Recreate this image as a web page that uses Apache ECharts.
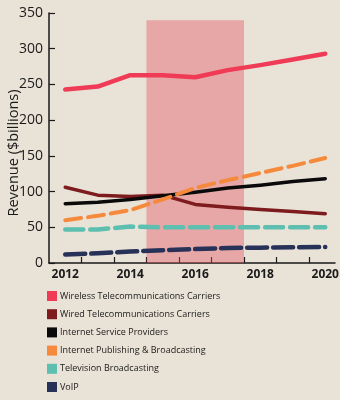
<!DOCTYPE html>
<html>
<head>
<meta charset="utf-8">
<script src="https://cdn.jsdelivr.net/npm/echarts@6/dist/echarts.min.js"></script>
<style>
  html, body { margin: 0; padding: 0; background: #e9e2d7; }
  #chart { width: 340px; height: 400px; }
</style>
</head>
<body>
<div id="chart"></div>
<script>
const years = [2012, 2013, 2014, 2015, 2016, 2017, 2018, 2019, 2020];
const wireless = [243, 247, 263, 263, 260, 270, 277, 285, 293];
const wired = [106, 95, 93, 95, 82, 78, 75, 72, 69];
const isp = [83, 85, 89, 94, 99, 105, 109, 114, 118];
const publishing = [60, 66, 74, 89, 105, 116, 126, 136, 147];
const television = [47, 47, 51, 50, 50, 50, 50, 50, 50];
const voip = [12, 13.5, 16, 18, 19.5, 21, 21.5, 22, 22.5];

const xLabels = [2012, 2014, 2016, 2018, 2020];
const xTicks = [2012.5, 2013.5, 2014.5, 2015.5, 2016.5, 2017.5, 2018.5, 2019.5];
const band = { from: 2014.5, to: 2017.5, top: 340 };

const font = '"Open Sans", "Noto Sans", sans-serif';

function pairs(values) {
  return values.map((v, i) => [years[i], v]);
}

function lineSeries(name, values, color, width, dash) {
  return {
    name: name,
    type: 'line',
    data: pairs(values),
    symbol: 'none',
    smooth: false,
    itemStyle: { color: color },
    lineStyle: { color: color, width: width, type: dash || 'solid', cap: 'round', join: 'round' },
    z: 3
  };
}

const chart = echarts.init(document.getElementById('chart'));
chart.setOption({
  backgroundColor: '#e9e2d7',
  animation: false,
  grid: { left: 49, right: 5, top: 13, bottom: 137, containLabel: false, outerBoundsMode: 'none' },
  xAxis: {
    type: 'value',
    min: 2011.5,
    max: 2020.3,
    axisLine: { show: true, lineStyle: { color: '#1a1a1a', width: 1.5 } },
    axisTick: { show: true, inside: true, length: 6, customValues: xTicks, lineStyle: { color: '#1a1a1a', width: 1.2 } },
    axisLabel: { customValues: xLabels, color: '#1a1a1a', fontFamily: font, fontWeight: 'bold', fontSize: 12, margin: 6, formatter: v => String(v) },
    splitLine: { show: false }
  },
  yAxis: {
    type: 'value',
    min: 0,
    max: 350,
    interval: 50,
    name: 'Revenue ($billions)',
    nameLocation: 'middle',
    nameGap: 28,
    nameMoveOverlap: false,
    nameTextStyle: { color: '#1a1a1a', fontFamily: font, fontSize: 14.5, padding: [0, 30, 0, 0] },
    axisLine: { show: true, lineStyle: { color: '#1a1a1a', width: 1.5 } },
    axisTick: { show: true, inside: true, length: 6, lineStyle: { color: '#1a1a1a', width: 1.2 } },
    axisLabel: { color: '#1a1a1a', fontFamily: font, fontSize: 14, margin: 6 },
    splitLine: { show: false }
  },
  legend: {
    orient: 'vertical',
    left: 42,
    top: 286,
    icon: 'rect',
    itemWidth: 10,
    itemHeight: 10,
    itemGap: 8.2,
    itemStyle: { borderWidth: 0 },
    textStyle: { color: '#1a1a1a', fontFamily: font, fontSize: 9, padding: [0, 0, 0, -2] },
    data: ['Wireless Telecommunications Carriers', 'Wired Telecommunications Carriers', 'Internet Service Providers', 'Internet Publishing & Broadcasting', 'Television Broadcasting', 'VoIP']
  },
  series: [
    lineSeries('Wireless Telecommunications Carriers', wireless, '#ef3b56', 4.5),
    lineSeries('Wired Telecommunications Carriers', wired, '#7e1b1e', 3.5),
    lineSeries('Internet Service Providers', isp, '#0a0a0a', 3.5),
    lineSeries('Internet Publishing & Broadcasting', publishing, '#f68a3c', 4, [16, 7]),
    lineSeries('Television Broadcasting', television, '#5cbfb0', 4.5, [18, 7]),
    lineSeries('VoIP', voip, '#283158', 4.5, [20, 6]),
    {
      name: 'band',
      type: 'line',
      data: [],
      z: 10,
      markArea: {
        silent: true,
        itemStyle: { color: 'rgba(226, 86, 98, 0.42)' },
        data: [[{ coord: [band.from, 0] }, { coord: [band.to, band.top] }]]
      }
    }
  ]
});
</script>
</body>
</html>
